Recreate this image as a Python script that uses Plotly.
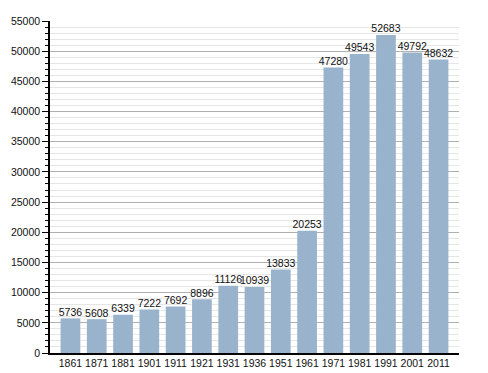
import plotly.graph_objects as go

years = ["1861", "1871", "1881", "1901", "1911", "1921", "1931", "1936", "1951", "1961",
         "1971", "1981", "1991", "2001", "2011"]
population = [5736, 5608, 6339, 7222, 7692, 8896, 11126, 10939, 13833, 20253,
              47280, 49543, 52683, 49792, 48632]
y_ticks = [0, 5000, 10000, 15000, 20000, 25000, 30000, 35000, 40000, 45000, 50000, 55000]

FONT = "Liberation Sans, Arial, sans-serif"

fig = go.Figure()
fig.add_trace(go.Bar(
    x=years, y=population,
    marker=dict(color="#9ab3cd", line=dict(width=0)),
    hoverinfo="x+y",
))
fig.add_trace(go.Scatter(
    x=years, y=population,
    mode="text",
    text=[str(v) for v in population],
    textposition="top center",
    textfont=dict(family=FONT, size=10.5, color="#111111"),
    cliponaxis=False,
    hoverinfo="skip",
))

# page body has an 8px default margin, so the figure is sized to fit the 488x373 window
fig.update_layout(
    width=480, height=365,
    margin=dict(l=42, r=29, t=13, b=20),
    paper_bgcolor="white", plot_bgcolor="white",
    bargap=0.25,
    showlegend=False,
    font=dict(family=FONT, size=10.5, color="#222222"),
)
fig.update_xaxes(
    type="category",
    automargin=False,
    showline=True, linecolor="black", linewidth=1.5,
    ticks="", showgrid=False,
    tickfont=dict(size=10.5, color="#111111"),
)
fig.update_yaxes(
    automargin=False,
    range=[0, 55000],
    tickvals=y_ticks,
    ticktext=[str(v) for v in y_ticks],
    showline=True, linecolor="black", linewidth=1.5,
    ticks="outside", ticklen=6, tickcolor="black", tickwidth=1,
    showgrid=True, gridcolor="#b0b0b0", gridwidth=1,
    zeroline=False,
    minor=dict(dtick=1000, ticks="outside", ticklen=3, tickcolor="black",
               showgrid=True, gridcolor="#e6e6e6", gridwidth=1),
    tickfont=dict(size=10.5, color="#111111"),
)

fig.write_html("out.html")
